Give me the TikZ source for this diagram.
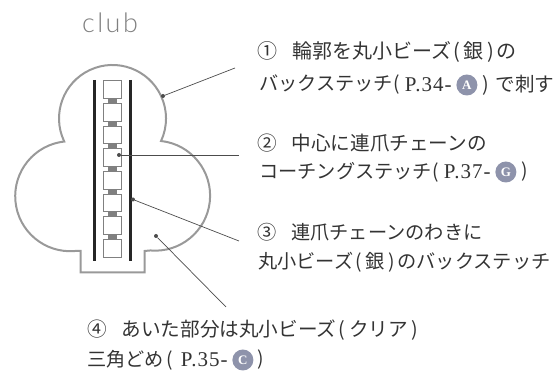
\documentclass[tikz,border=0pt]{standalone}
\usepackage{fontspec}
\setmainfont{Noto Sans CJK JP}
\newfontfamily\latinfont{Liberation Serif}[LetterSpace=5]
\newfontfamily\clubfont{Lato Light}[LetterSpace=9]
\definecolor{badgeblue}{HTML}{8E93AB}
\newcommand{\lp}{\hspace{2pt}(\hspace{4pt}}
\newcommand{\rp}{\hspace{4pt})\hspace{2pt}}
\tikzset{
  txt/.style={anchor=west,inner sep=0pt,font=\fontsize{19.2}{19.2}\selectfont,text=black!80},
  txtwide/.style={txt,font=\fontsize{19.6}{19.6}\selectfont},
  ltn/.style={txt,font=\fontsize{21}{21}\selectfont\latinfont},
  bdg/.style={circle,fill=badgeblue,text=white,inner sep=0pt,minimum size=21pt,font=\fontsize{13}{13}\selectfont\latinfont\bfseries},
  bead/.style={draw=black!50,fill=white,line width=1pt},
  pointer/.style={black!70,line width=0.7pt},
  dot/.style={circle,fill=black!70,inner sep=0pt,minimum size=4pt}
}
\begin{document}
\begin{tikzpicture}[x=1pt,y=-1pt]
\useasboundingbox (0,0) rectangle (558,371);
\node [inner sep=0pt,text=black!50,font=\fontsize{27}{27}\selectfont\clubfont] (club) at (110,23) {club};
% outline
\draw [black!40,line width=2pt] (64,141) arc [start angle=204.9,end angle=-24.9,radius=53.5pt]
  arc [start angle=83.8,end angle=-95,radius=55pt] -- (144.5,251) -- (144.5,272.5) -- (80.5,272.5) -- (80.5,251)
  -- (75,251) arc [start angle=-85,end angle=-263.8,radius=55pt] -- cycle;
% side bars
\draw [black!85,line width=2.4pt] (94.5,80) -- (94.5,261);
\draw [black!85,line width=2.4pt] (130.5,80) -- (130.5,261);
% chain
\foreach \i in {0,...,7} {
  \draw [bead] (103.5,81+22.65*\i) rectangle ++(18,17.5);
}
\foreach \i in {0,...,6} {
  \fill [black!50] (108,98.5+22.65*\i) rectangle ++(9,5.2);
}
% pointers
\node [dot] (p1) at (163,96) {};
\node [dot] (p2) at (119,155) {};
\node [dot] (p3) at (133,199.5) {};
\node [dot] (p4) at (156,236) {};
\coordinate (q1) at (235,68);
\coordinate (q2) at (239,155);
\coordinate (q3) at (239,241);
\coordinate (q4) at (226,307);
\draw [pointer] (p1) -- (q1);
\draw [pointer] (p2) -- (q2);
\draw [pointer] (p3) -- (q3);
\draw [pointer] (p4) -- (q4);
% first note
\node [txtwide,font=\fontsize{20}{20}\selectfont] (a1) at (257,52) {①\hspace{15pt}輪郭を丸小ビーズ\lp 銀\rp の};
\node [txt] (a2) at (259,85) {バックステッチ(};
\node [ltn] (a3) at ([xshift=5pt]a2.east) {P.34-};
\node [bdg] (a4) at ([xshift=15pt]a3.east) {A};
\node [txtwide] (a5) at ([xshift=15pt]a4.center) {)\hspace{7pt}で刺す};
% second note
\node [txtwide] (b1) at (257,143) {②\hspace{15pt}中心に連爪チェーンの};
\node [txt] (b2) at (259,172) {コーチングステッチ(};
\node [ltn] (b3) at ([xshift=5pt]b2.east) {P.37-};
\node [bdg] (b4) at ([xshift=15pt]b3.east) {G};
\node [txt] (b5) at ([xshift=15pt]b4.center) {)};
% third note
\node [txt] (c1) at (257,232) {③\hspace{15pt}連爪チェーンのわきに};
\node [txt] (c2) at (258,262) {丸小ビーズ\lp 銀\rp のバックステッチ};
% fourth note
\node [txtwide] (d1) at (87,330) {④\hspace{15pt}あいた部分は丸小ビーズ\lp クリア\hspace{4pt})};
\node [txt] (d2) at (87,360) {三角どめ\hspace{3pt}(};
\node [ltn] (d3) at ([xshift=7pt]d2.east) {P.35-};
\node [bdg] (d4) at ([xshift=15pt]d3.east) {C};
\node [txt] (d5) at ([xshift=14pt]d4.center) {)};
\end{tikzpicture}
\end{document}
